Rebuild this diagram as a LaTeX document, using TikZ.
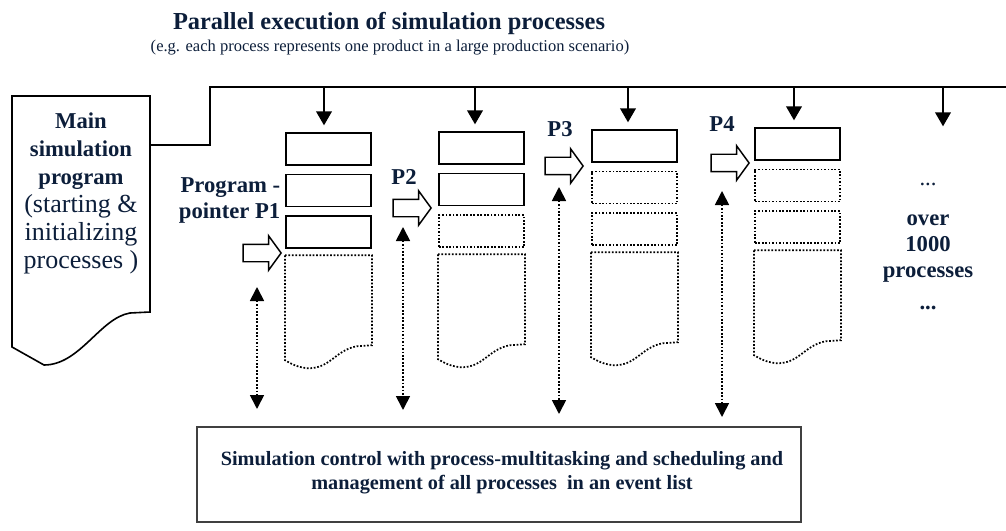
\documentclass[tikz,border=0pt]{standalone}
\usepackage{fontspec}
\setmainfont{Liberation Serif}
\usetikzlibrary{arrows.meta,shapes.arrows,positioning}
\definecolor{navy}{RGB}{12,30,58}
\definecolor{framegray}{RGB}{64,64,64}

\begin{document}
\begin{tikzpicture}[x=0.75pt,y=-0.75pt,
    solidbox/.style={draw,line width=1.3pt,minimum width=64pt,minimum height=24pt,inner sep=0pt},
    dotbox/.style={solidbox,dash pattern=on 1.3pt off 1.3pt},
    dotline/.style={line width=1.3pt,dash pattern=on 1.3pt off 1.3pt},
    busline/.style={line width=1.5pt},
    busarrow/.style={line width=1.5pt,-{Triangle[width=11.7pt,length=10.5pt]},shorten >=5pt},
    dotarrow/.style={dotline,{Triangle[width=10.5pt,length=10.5pt]}-{Triangle[width=10.5pt,length=10.5pt]}},
    pointer/.style={draw,line width=1.1pt,shape=single arrow,anchor=tip,inner sep=0pt,
      text height=12pt,text depth=0pt,minimum height=28.5pt,
      single arrow head extend=6.4pt,single arrow tip angle=108},
    lbl/.style={text=navy,font=\bfseries\fontsize{17}{19.5}\selectfont},
    ctrlbox/.style={draw=framegray,line width=1.5pt,minimum width=453pt,minimum height=71pt,inner sep=0pt}]
  \useasboundingbox (0,0) rectangle (1006,531);

  % headline
  \node[text=navy,font=\bfseries\fontsize{18.3}{22}\selectfont] (title) at (389,24)
    {Parallel execution of simulation processes};
  \node[text=navy,font=\fontsize{12.4}{14}\selectfont] (subtitle) at (390,48)
    {(e.g. each process represents one product in a large production scenario)};

  % main program
  \draw[line width=1.2pt] (12,96) -- (150,96) -- (150,312) -- (130,313)
    .. controls (100,318) and (80,365) .. (44,365) -- (12,347) -- cycle;
  \node[text=navy,align=center,font=\fontsize{19.5}{21}\selectfont] (mptxt) at (81,193)
    {\bfseries\fontsize{17}{21}\selectfont Main\\
     \bfseries\fontsize{17}{21}\selectfont simulation\\
     \bfseries\fontsize{17}{21}\selectfont program\\
     (starting \&\\ initializing\\ processes )};

  % bus
  \coordinate (mp) at (150,145);
  \coordinate (bend) at (210,87);
  \coordinate (busend) at (1006,87);
  \draw[busline] (mp) -| (bend) -- (busend);

  % process stacks
  \foreach \c/\L/\T/\sb/\sc in {1/285/132/solidbox/solidbox,2/438/131/solidbox/dotbox,
                               3/591/129/dotbox/dotbox,4/754/127/dotbox/dotbox}{
    \node[solidbox,anchor=north west] (c\c a) at (\L,\T) {};
    \node[\sb,below=6pt of c\c a] (c\c b) {};
    \node[\sc,below=6pt of c\c b] (c\c c) {};
    \coordinate (c\c d) at ([yshift=-4.5pt]c\c c.south west);
    \begin{scope}[shift={(c\c d)}]
      \draw[dotline] (0,0) -- (87,0) -- (87,90) -- (72,91)
        .. controls (50,95) and (45,114) .. (22,113)
        .. controls (12,112) and (5,108) .. (0,105) -- cycle;
    \end{scope}
  }

  % taps from the bus
  \foreach \c/\x in {1/324,2/475,3/628,4/794}{
    \coordinate (tap\c) at (\x,87);
    \draw[busarrow] (tap\c) -- (tap\c |- c\c a.north);
  }
  \coordinate (tap5) at (943,87);
  \coordinate (end5) at (943,133);
  \draw[busarrow] (tap5) -- (end5);

  % program pointers
  \foreach \i/\x/\y in {1/282/253,2/432/208,3/584/166,4/750/163}{
    \node[pointer] (ptr\i) at (\x,\y) {};
  }
  \node[lbl,align=right,anchor=east] (plbl1) at (285,200) {Program -\\pointer P1};
  \node[lbl] (plbl2) at (404,177) {P2};
  \node[lbl] (plbl3) at (560,129) {P3};
  \node[lbl] (plbl4) at (722,124) {P4};

  % links to the simulation control
  \foreach \i/\x/\t/\b in {1/257/287/409,2/403/227/410,3/559/187/414,4/722/191/417}{
    \coordinate (v\i t) at (\x,\t);
    \coordinate (v\i b) at (\x,\b);
    \draw[dotarrow] (v\i t) -- (v\i b);
  }

  \node[lbl,align=center] (more) at (928,246)
    {{\mdseries ...}\\[11pt] over\\ 1000\\ processes\\[4pt] ...};

  % simulation control
  \node[ctrlbox,anchor=north west] (ctrl) at (196,426) {};
  \node[lbl,align=center,font=\bfseries\fontsize{15.2}{18}\selectfont] (ctrltxt) at (502,473)
    {Simulation control with process-multitasking and scheduling and\\
     management of all processes\ \ in an event list};
\end{tikzpicture}
\end{document}
